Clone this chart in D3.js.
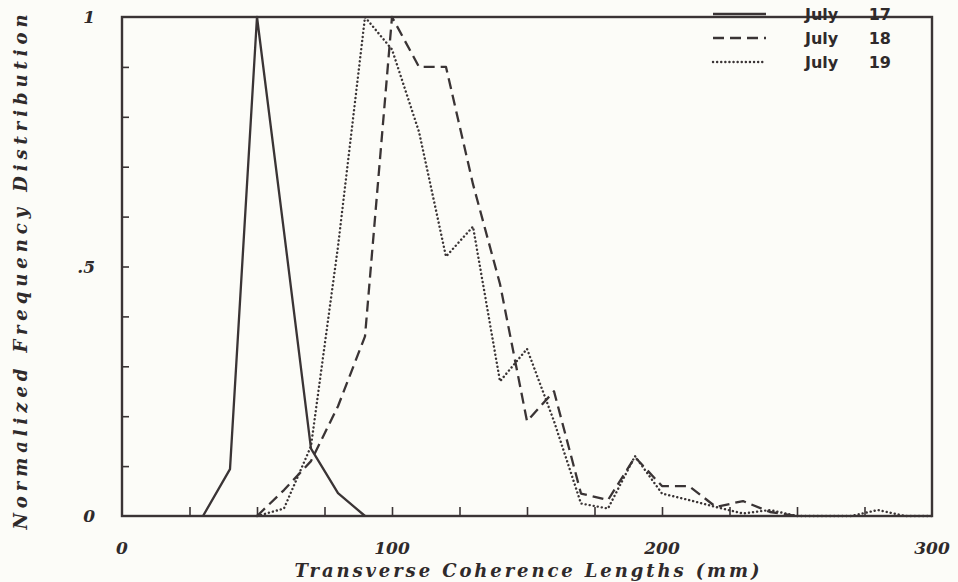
<!DOCTYPE html>
<html>
<head>
<meta charset="utf-8">
<script src="https://cdn.jsdelivr.net/npm/d3@7"></script>
<style>
  html, body { margin: 0; padding: 0; background: #fcfcf8; }
  svg text { fill: #2f2a2b; }
  .tick-label { font-family: "DejaVu Serif", serif; font-style: italic; font-weight: bold; font-size: 17px; }
  .axis-title { font-family: "DejaVu Serif", serif; font-style: italic; font-weight: bold; font-size: 18px; }
  .legend { font-family: "DejaVu Sans", sans-serif; font-weight: bold; font-size: 16px; }
</style>
</head>
<body>
<div id="chart"></div>
<script>
// readings taken off the figure
const lengths17 = [30, 40, 50, 60, 70, 80, 90];
const july17 = [0, 0.094, 1, 0.57, 0.135, 0.046, 0];

const lengths18 = [50, 60, 70, 80, 90, 100, 110, 120, 130, 140, 150, 160, 170, 180, 190, 200, 210, 220, 230, 240, 250];
const july18 = [0, 0.052, 0.11, 0.22, 0.36, 1, 0.9, 0.9, 0.665, 0.465, 0.19, 0.25, 0.045, 0.032, 0.118, 0.06, 0.06, 0.018, 0.03, 0.008, 0];

const lengths19 = [50, 60, 70, 80, 90, 100, 110, 120, 130, 140, 150, 160, 170, 180, 190, 200, 210, 220, 230, 240, 250, 260, 270, 280, 290, 300];
const july19 = [0, 0.015, 0.14, 0.54, 1, 0.935, 0.77, 0.52, 0.58, 0.27, 0.335, 0.19, 0.025, 0.015, 0.12, 0.045, 0.032, 0.018, 0.005, 0.012, 0, 0, 0, 0.012, 0, 0];

const legendLabels = ["July 17", "July 18", "July 19"];
const xTickLabels = [0, 100, 200, 300];
const yTickLabels = [0, 0.5, 1];

const width = 958, height = 582;
const margin = {top: 17, right: 26, bottom: 66, left: 122};
const ink = "#3a3435";

const svg = d3.select("#chart")
    .append("svg")
    .attr("width", width)
    .attr("height", height);

const xScale = d3.scaleLinear()
    .domain([0, 300])
    .range([margin.left, width - margin.right]);

const yScale = d3.scaleLinear()
    .domain([0, 1])
    .range([height - margin.bottom, margin.top]);

// frame
svg.append("rect")
    .attr("x", xScale(0))
    .attr("y", yScale(1))
    .attr("width", xScale(300) - xScale(0))
    .attr("height", yScale(0) - yScale(1))
    .attr("fill", "none")
    .attr("stroke", ink)
    .attr("stroke-width", 2.4);

// minor ticks, drawn inward
svg.append("g")
    .attr("transform", `translate(0,${yScale(0)})`)
    .call(d3.axisTop(xScale).tickValues(d3.range(25, 300, 25)).tickSize(9).tickFormat(""))
    .call(g => g.select(".domain").remove())
    .selectAll("line").attr("stroke", ink).attr("stroke-width", 1.6);

svg.append("g")
    .attr("transform", `translate(${xScale(0)},0)`)
    .call(d3.axisRight(yScale).tickValues(d3.range(1, 10).map(d => d / 10)).tickSize(7).tickFormat(""))
    .call(g => g.select(".domain").remove())
    .selectAll("line").attr("stroke", ink).attr("stroke-width", 1.6);

// tick labels
svg.selectAll(".xlab")
    .data(xTickLabels)
    .enter().append("text")
    .attr("class", "tick-label")
    .attr("x", d => xScale(d))
    .attr("y", 554)
    .attr("text-anchor", "middle")
    .text(d => d);

svg.selectAll(".ylab")
    .data(yTickLabels)
    .enter().append("text")
    .attr("class", "tick-label")
    .attr("x", 95)
    .attr("y", d => yScale(d) + 6)
    .attr("text-anchor", "end")
    .text(d => d == 0.5 ? ".5" : d);

// axis titles
svg.append("text")
    .attr("class", "axis-title")
    .attr("x", (xScale(0) + xScale(300)) / 2)
    .attr("y", 577)
    .attr("text-anchor", "middle")
    .attr("textLength", 465)
    .text("Transverse Coherence Lengths (mm)");

svg.append("text")
    .attr("class", "axis-title")
    .attr("transform", "translate(27,272) rotate(-90)")
    .attr("text-anchor", "middle")
    .attr("textLength", 515)
    .text("Normalized Frequency Distribution");

// curves
const series = [
    {x: lengths17, y: july17, dash: null, cap: "butt", w: 2.3},
    {x: lengths18, y: july18, dash: "11,6", cap: "butt", w: 2.3},
    {x: lengths19, y: july19, dash: "0.1,4", cap: "round", w: 2.4}
];

const line = d3.line()
    .x(d => xScale(d[0]))
    .y(d => yScale(d[1]));

series.forEach(s => {
    svg.append("path")
        .attr("d", line(d3.zip(s.x, s.y)))
        .attr("fill", "none")
        .attr("stroke", ink)
        .attr("stroke-width", s.w)
        .attr("stroke-linecap", s.cap)
        .attr("stroke-linejoin", "round")
        .attr("stroke-dasharray", s.dash);
});

// legend
const legend = svg.append("g");
legendLabels.forEach((lab, i) => {
    const y = 14 + i * 24;
    legend.append("line")
        .attr("x1", 713).attr("x2", 766)
        .attr("y1", y).attr("y2", y)
        .attr("stroke", ink)
        .attr("stroke-width", series[i].w)
        .attr("stroke-linecap", series[i].cap)
        .attr("stroke-dasharray", series[i].dash);
    const parts = lab.split(" ");
    legend.append("text").attr("class", "legend")
        .attr("x", 805).attr("y", y + 6).text(parts[0]);
    legend.append("text").attr("class", "legend")
        .attr("x", 891).attr("y", y + 6).attr("text-anchor", "end").text(parts[1]);
});
</script>
</body>
</html>
